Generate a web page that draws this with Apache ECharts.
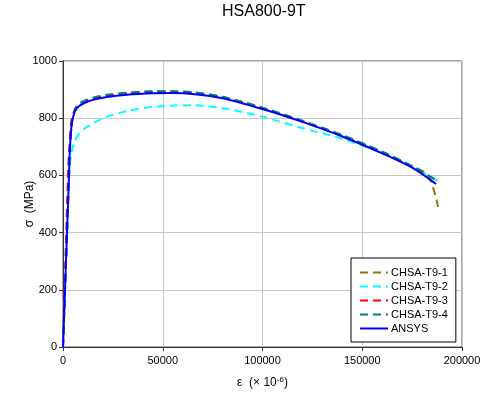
<!DOCTYPE html>
<html>
<head>
<meta charset="utf-8">
<script src="https://cdn.jsdelivr.net/npm/echarts@6/dist/echarts.min.js"></script>
<style>
  html, body { margin: 0; padding: 0; background: #fff; }
  #chart-container { width: 500px; height: 399px; }
</style>
</head>
<body>
<div id="chart-container"></div>
<script>
// strain in micro-strain, stress in MPa
const strainT91 = [0, 1500, 3000, 3500, 4500, 6000, 8000, 11000, 15000, 22000, 32000, 45000, 55000, 65000, 80000, 100000, 120000, 140000, 160000, 175000, 183000, 188000];
const stressT91 = [0, 300, 600, 700, 790, 830, 848, 860, 870, 880, 888, 893, 893, 890, 874, 836, 790, 740, 682, 632, 600, 490];

const strainT92 = [0, 1500, 3000, 3500, 4500, 6000, 8000, 11000, 15000, 22000, 32000, 45000, 55000, 65000, 80000, 100000, 120000, 140000, 160000, 175000, 188000];
const stressT92 = [0, 290, 580, 640, 690, 722, 745, 765, 782, 805, 825, 840, 844, 845, 835, 805, 765, 728, 678, 630, 580];

const strainT93 = [0, 1200, 2600, 3200, 4200, 6000, 8000, 11000, 15000, 22000, 32000, 45000, 55000, 65000, 80000, 100000, 120000, 140000, 160000, 175000, 186000];
const stressT93 = [0, 300, 620, 700, 790, 830, 846, 858, 868, 878, 886, 890, 890, 887, 872, 834, 788, 738, 680, 630, 575];

const strainT94 = [0, 1500, 3000, 3500, 4500, 6000, 8000, 11000, 15000, 22000, 32000, 45000, 55000, 65000, 80000, 100000, 120000, 140000, 160000, 175000, 188000];
const stressT94 = [0, 290, 590, 690, 785, 832, 850, 862, 872, 882, 889, 894, 894, 891, 875, 837, 791, 741, 683, 633, 580];

const strainAnsys = [0, 1500, 3000, 3500, 4500, 6000, 8000, 11000, 15000, 22000, 32000, 45000, 55000, 65000, 80000, 100000, 120000, 140000, 160000, 175000, 187000];
const stressAnsys = [0, 300, 600, 700, 785, 825, 842, 854, 864, 874, 882, 887, 888, 885, 870, 832, 787, 736, 677, 627, 570];

const seriesNames = ['CHSA-T9-1', 'CHSA-T9-2', 'CHSA-T9-3', 'CHSA-T9-4', 'ANSYS'];
const seriesColors = ['#808000', '#00FFFF', '#FF0000', '#008080', '#0000FF'];
const xTicks = [0, 50000, 100000, 150000, 200000];
const yTicks = [0, 200, 400, 600, 800, 1000];

const pairs = (xs, ys) => xs.map((x, i) => [x, ys[i]]);
const allData = [
  pairs(strainT91, stressT91),
  pairs(strainT92, stressT92),
  pairs(strainT93, stressT93),
  pairs(strainT94, stressT94),
  pairs(strainAnsys, stressAnsys)
];

var dom = document.getElementById('chart-container');
var myChart = echarts.init(dom, null, { renderer: 'canvas' });

const font = 'Liberation Sans, Arial, sans-serif';

const series = seriesNames.map((name, i) => ({
  name: name,
  type: 'line',
  data: allData[i],
  smooth: 0.3,
  symbol: 'none',
  showSymbol: false,
  z: 2 + i,
  lineStyle: {
    color: seriesColors[i],
    width: 2,
    type: name === 'ANSYS' ? 'solid' : [8, 5]
  },
  itemStyle: { color: seriesColors[i] }
}));

var option = {
  animation: false,
  backgroundColor: '#fff',
  title: {
    text: 'HSA800-9T',
    left: 222,
    top: 4,
    padding: 0,
    textStyle: { fontFamily: font, fontSize: 16, fontWeight: 'normal', color: '#000' }
  },
  legend: {
    orient: 'vertical',
    left: 351,
    top: 258,
    width: 106,
    padding: [9, 8, 8, 8],
    itemGap: 3,
    itemWidth: 28,
    itemHeight: 11,
    borderColor: '#000',
    borderWidth: 1,
    backgroundColor: '#fff',
    itemStyle: { opacity: 0 },
    textStyle: { fontFamily: font, fontSize: 11, color: '#000', padding: [0, 0, 0, -2] },
    data: seriesNames
  },
  grid: {
    left: 63,
    right: 38,
    top: 61,
    bottom: 52,
    show: true,
    borderColor: '#555',
    borderWidth: 1
  },
  xAxis: {
    type: 'value',
    min: xTicks[0],
    max: xTicks[xTicks.length - 1],
    interval: 50000,
    name: '{a|ε  (× 10}{s|-6}{a|)}',
    nameLocation: 'middle',
    nameGap: 29,
    nameMoveOverlap: false,
    nameTextStyle: {
      rich: {
        a: { fontFamily: font, fontSize: 12, color: '#000' },
        s: { fontFamily: font, fontSize: 8, color: '#000', verticalAlign: 'top', padding: [0, 0, 6, 0] }
      }
    },
    axisLine: { lineStyle: { color: '#333', width: 1 } },
    axisTick: { show: true, length: 4, lineStyle: { color: '#333' } },
    axisLabel: { fontFamily: font, fontSize: 11, color: '#000', margin: 8, formatter: v => String(v) },
    splitLine: { show: true, lineStyle: { color: '#c8c8c8', width: 1 } }
  },
  yAxis: {
    type: 'value',
    min: yTicks[0],
    max: yTicks[yTicks.length - 1],
    interval: 200,
    name: 'σ  (MPa)',
    nameLocation: 'middle',
    nameGap: 27,
    nameMoveOverlap: false,
    nameTextStyle: { fontFamily: font, fontSize: 12, color: '#000' },
    axisLine: { show: true, lineStyle: { color: '#333', width: 1 } },
    axisTick: { show: true, length: 4, lineStyle: { color: '#333' } },
    axisLabel: { fontFamily: font, fontSize: 11, color: '#000', margin: 6, formatter: v => String(v) },
    splitLine: { show: true, lineStyle: { color: '#c8c8c8', width: 1 } }
  },
  series: series
};

myChart.setOption(option);
window.addEventListener('resize', myChart.resize);
</script>
</body>
</html>
